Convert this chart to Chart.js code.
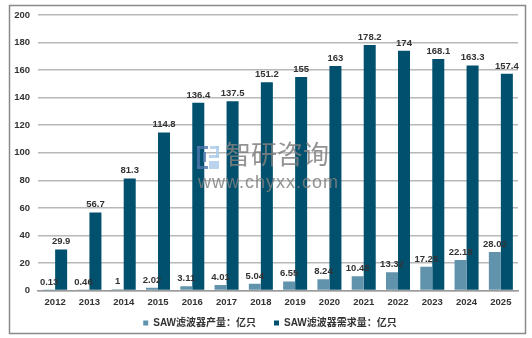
<!DOCTYPE html>
<html>
<head>
<meta charset="utf-8">
<script src="https://cdn.jsdelivr.net/npm/chart.js@4"></script>
<style>
  html, body { margin: 0; padding: 0; background: #fff; }
  #wrap { width: 532px; height: 338px; }
</style>
</head>
<body>
<div id="wrap"><canvas id="sawChart" width="532" height="338"></canvas></div>
<script>
const years = ['2012', '2013', '2014', '2015', '2016', '2017', '2018', '2019', '2020', '2021', '2022', '2023', '2024', '2025'];
const outputVals = [0.13, 0.46, 1, 2.02, 3.11, 4.01, 5.04, 6.55, 8.24, 10.45, 13.32, 17.25, 22.18, 28.02];
const demandVals = [29.9, 56.7, 81.3, 114.8, 136.4, 137.5, 151.2, 155, 163, 178.2, 174, 168.1, 163.3, 157.4];
const seriesNames = ['SAW滤波器产量：亿只', 'SAW滤波器需求量：亿只'];
const yMax = 200;
const yStep = 20;

const FONT = "'Liberation Sans', Arial, 'Noto Sans CJK SC', sans-serif";

// white background + grey frame round the whole chart
const framePlugin = {
    id: 'frame',
    beforeDraw(chart) {
        const ctx = chart.ctx;
        ctx.save();
        ctx.fillStyle = '#fff';
        ctx.fillRect(0, 0, chart.width, chart.height);
        ctx.strokeStyle = '#8a8a8a';
        ctx.lineWidth = 1.5;
        ctx.strokeRect(9.5, 5.5, 516, 328);
        ctx.restore();
    }
};

// move the legend box a little right and pin its top
const legendNudge = {
    id: 'legendNudge',
    afterLayout(chart) {
        const lg = chart.legend;
        if (!lg) return;
        lg.left += 11;
        lg.right += 11;
        lg.top = 300;
        lg.bottom = chart.height;
    }
};

// value labels above each bar
const valueLabels = {
    id: 'valueLabels',
    afterDatasetsDraw(chart) {
        const ctx = chart.ctx;
        ctx.save();
        ctx.font = 'bold 9.5px ' + FONT;
        ctx.fillStyle = '#333';
        ctx.textAlign = 'center';
        ctx.textBaseline = 'bottom';
        chart.data.datasets.forEach((ds, i) => {
            chart.getDatasetMeta(i).data.forEach((bar, j) => {
                ctx.fillText(String(ds.data[j]), bar.x, bar.y - 3);
            });
        });
        ctx.restore();
    }
};

// site watermark in the middle of the plot
const watermark = {
    id: 'watermark',
    afterDraw(chart) {
        const ctx = chart.ctx;
        ctx.save();
        // logo mark: dark left frame, light right blocks
        ctx.globalAlpha = 0.8;
        ctx.fillStyle = '#4d74ad';
        ctx.fillRect(197, 146, 11, 3);
        ctx.fillRect(197, 146, 3, 23);
        ctx.fillRect(197, 166, 11, 3);
        ctx.fillRect(203, 152, 3, 10);
        ctx.fillStyle = '#a9c9ea';
        ctx.fillRect(210, 146, 9, 3);
        ctx.fillRect(216, 146, 3, 11);
        ctx.fillRect(209, 155, 10, 3);
        ctx.fillRect(209, 161, 10, 8);
        ctx.globalAlpha = 1;
        ctx.fillStyle = 'rgba(128,128,128,0.85)';
        ctx.textBaseline = 'middle';
        ctx.textAlign = 'left';
        ctx.font = '26px ' + FONT;
        ctx.fillText('智研咨询', 225, 157);
        ctx.font = '18px ' + FONT;
        ctx.letterSpacing = '1px';
        ctx.fillText('www.chyxx.com', 198, 183);
        ctx.restore();
    }
};

new Chart(document.getElementById('sawChart'), {
    type: 'bar',
    data: {
        labels: years,
        datasets: [{
            label: seriesNames[0],
            data: outputVals,
            backgroundColor: '#6293ac'
        }, {
            label: seriesNames[1],
            data: demandVals,
            backgroundColor: '#01506d'
        }]
    },
    options: {
        responsive: false,
        animation: false,
        layout: { padding: { left: 0, right: 14, top: 15, bottom: 2 } },
        datasets: {
            bar: { categoryPercentage: 0.7, barPercentage: 1.0, borderWidth: 0 }
        },
        scales: {
            x: {
                grid: { display: false, drawTicks: false },
                border: { color: '#9a9a9a', width: 1.5 },
                ticks: { color: '#333', padding: 6, font: { family: FONT, size: 9.5, weight: 'bold' } }
            },
            y: {
                min: 0,
                max: yMax,
                afterFit(scale) { scale.width = 38; },
                grid: { color: '#b8b8b8', lineWidth: 1.5, drawTicks: false },
                border: { display: false },
                ticks: { stepSize: yStep, color: '#333', padding: 8, font: { family: FONT, size: 9.5, weight: 'bold' } }
            }
        },
        plugins: {
            legend: {
                position: 'bottom',
                maxHeight: 22,
                labels: {
                    boxWidth: 5,
                    boxHeight: 5,
                    padding: 18,
                    color: '#333',
                    font: { family: FONT, size: 10, weight: 'bold' }
                }
            },
            tooltip: { enabled: false }
        }
    },
    plugins: [framePlugin, legendNudge, valueLabels, watermark]
});
</script>
</body>
</html>
